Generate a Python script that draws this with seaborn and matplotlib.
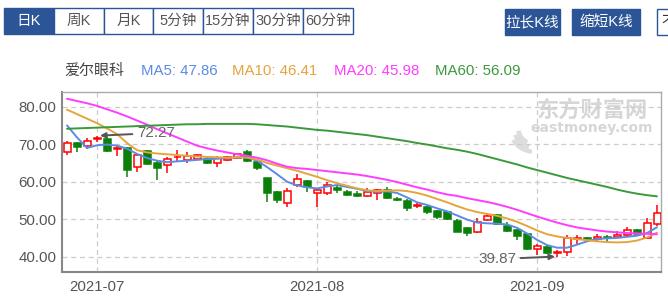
import numpy as np
import pandas as pd
import matplotlib
matplotlib.use("Agg")
import matplotlib.pyplot as plt
import seaborn as sns
from matplotlib.patches import Rectangle, Wedge

# ---------------- data ----------------
dates = pd.bdate_range("2021-06-28", "2021-09-17")  # 60 trading days
opens = [68.0, 70.3, 69.4, 71.3, 71.4, 68.6, 68.9, 64.0, 68.2, 64.9,
         64.5, 66.5, 65.8, 66.1, 66.0, 65.1, 65.8, 66.4, 67.8, 65.2,
         60.9, 57.2, 54.2, 59.1, 60.2, 56.9, 56.9, 58.2, 57.3, 56.6,
         56.3, 57.1, 57.8, 55.3, 54.9, 53.4, 53.3, 52.2, 51.8, 49.6,
         47.6, 46.7, 49.8, 51.1, 48.3, 47.1, 46.1, 42.1, 42.7, 41.0,
         41.3, 44.8, 44.9, 44.7, 45.3, 45.2, 45.8, 47.1, 44.9, 48.7]
highs = [70.8, 70.6, 71.6, 72.27, 71.9, 69.8, 69.2, 67.5, 68.4, 65.5,
         66.6, 68.5, 68.0, 67.5, 66.5, 66.8, 66.9, 67.5, 68.5, 65.4,
         61.0, 57.5, 58.2, 62.0, 60.5, 58.3, 59.8, 59.0, 57.8, 57.5,
         58.3, 58.0, 58.5, 55.9, 55.3, 54.5, 53.5, 52.4, 52.0, 50.0,
         47.8, 50.2, 51.6, 51.3, 49.3, 47.3, 46.3, 43.3, 43.0, 41.8,
         45.8, 45.8, 45.2, 46.0, 45.9, 46.9, 47.8, 47.3, 50.2, 53.8]
lows = [67.1, 68.0, 68.7, 70.5, 68.0, 66.9, 61.2, 62.6, 64.4, 60.5,
        62.2, 65.4, 65.0, 65.8, 64.6, 64.0, 65.6, 66.2, 65.3, 63.0,
        54.7, 54.2, 53.3, 58.6, 57.3, 53.3, 56.5, 56.9, 56.2, 55.9,
        56.0, 55.1, 55.4, 54.9, 52.2, 53.0, 51.5, 50.0, 49.8, 46.5,
        45.6, 46.2, 49.6, 48.4, 46.7, 44.5, 41.8, 40.5, 40.7, 39.87,
        40.3, 43.2, 44.3, 44.2, 43.9, 44.9, 45.5, 46.0, 44.7, 48.3]
closes = [70.2, 69.2, 70.9, 71.6, 68.1, 68.9, 63.2, 67.1, 64.6, 63.7,
          66.1, 66.7, 66.8, 67.1, 64.9, 66.4, 66.5, 67.3, 65.5, 63.6,
          56.9, 55.1, 57.5, 60.7, 58.7, 57.8, 59.1, 57.9, 56.5, 56.1,
          57.3, 57.8, 55.6, 55.0, 53.1, 53.7, 51.8, 50.7, 50.1, 46.7,
          46.4, 49.3, 50.9, 48.6, 46.9, 45.6, 42.0, 42.9, 40.9, 41.3,
          45.1, 45.1, 44.7, 45.3, 44.9, 45.7, 47.1, 46.1, 48.9, 51.7]

ma5 = [75.0, 71.8, 69.0, 69.7, 69.9, 69.6, 68.8, 67.4, 66.3, 65.6,
       65.2, 65.4, 65.6, 65.8, 66.0, 66.1, 66.3, 66.5, 66.5, 65.6,
       63.9, 62.0, 60.0, 59.0, 58.5, 58.2, 58.7, 59.1, 58.6, 58.1,
       57.5, 57.3, 57.4, 57.0, 55.8, 54.5, 53.8, 52.9, 52.1, 51.0,
       49.9, 49.1, 48.9, 48.8, 48.6, 47.7, 46.2, 44.5, 43.1, 42.4,
       42.4, 43.2, 44.1, 44.7, 44.9, 45.0, 45.3, 45.6, 46.3, 47.86]
ma10 = [79.2, 78.0, 76.8, 75.6, 74.2, 72.7, 70.3, 68.4, 67.8, 67.5,
        67.3, 67.1, 66.9, 66.7, 66.6, 66.5, 66.4, 66.5, 66.4, 65.9,
        65.0, 64.3, 63.6, 62.9, 62.1, 61.3, 60.4, 59.6, 58.9, 58.2,
        57.7, 57.5, 57.6, 57.7, 57.5, 57.0, 56.3, 55.4, 54.5, 53.5,
        52.6, 51.9, 51.4, 50.9, 50.2, 49.3, 48.2, 47.0, 46.0, 45.4,
        45.0, 44.7, 44.4, 44.1, 43.9, 43.8, 43.9, 44.3, 45.1, 46.41]
ma20 = [82.1, 81.5, 80.9, 80.2, 79.3, 78.4, 77.4, 76.3, 75.2, 74.0,
        72.9, 71.8, 70.7, 69.6, 68.9, 68.3, 67.8, 67.3, 66.9, 66.4,
        65.7, 64.8, 64.0, 63.6, 63.4, 63.1, 62.8, 62.5, 62.2, 61.9,
        61.5, 61.0, 60.5, 59.9, 59.2, 58.5, 57.9, 57.2, 56.6, 56.2,
        55.6, 55.1, 54.6, 54.0, 53.3, 52.5, 51.6, 50.7, 49.9, 49.1,
        48.4, 47.8, 47.4, 47.0, 46.7, 46.5, 46.3, 46.2, 46.1, 45.98]
ma60 = [74.1, 74.2, 74.3, 74.4, 74.5, 74.6, 74.7, 74.8, 74.9, 75.0,
        75.1, 75.2, 75.3, 75.3, 75.4, 75.4, 75.4, 75.4, 75.4, 75.3,
        75.1, 74.9, 74.7, 74.4, 74.1, 73.8, 73.6, 73.3, 73.0, 72.7,
        72.4, 72.0, 71.6, 71.2, 70.8, 70.3, 69.9, 69.4, 68.9, 68.5,
        68.0, 67.4, 66.7, 66.0, 65.3, 64.6, 63.8, 63.1, 62.4, 61.7,
        61.0, 60.4, 59.8, 59.2, 58.6, 57.9, 57.3, 56.8, 56.4, 56.09]

stock_name = "爱尔眼科"
ma_names = ["MA5", "MA10", "MA20", "MA60"]
ma_colors = ["#5b8be6", "#e5a53c", "#ff3cff", "#3a9a3a"]
y_ticks = [40, 50, 60, 70, 80]
tabs = ["日K", "周K", "月K", "5分钟", "15分钟", "30分钟", "60分钟"]
buttons = ["拉长K线", "缩短K线"]
high_label, low_label = "72.27", "39.87"

# ---------------- style ----------------
sns.set_theme(style="white")
plt.rcParams["font.family"] = ["Liberation Sans", "Noto Sans CJK SC", "DejaVu Sans"]

W, H = 668, 296
fig = plt.figure(figsize=(W / 100, H / 100), dpi=100)
fig.patch.set_facecolor("white")

bg = fig.add_axes([0, 0, 1, 1])
bg.set_xlim(0, W)
bg.set_ylim(H, 0)
bg.axis("off")
bg.set_zorder(0)

BLUE = "#2c5597"
tx0, tw, ty, th = 4, 49.8, 8, 26
for k, t in enumerate(tabs):
    sel = k == 0
    bg.add_patch(Rectangle((tx0 + k * tw, ty), tw, th, facecolor=BLUE if sel else "white",
                           edgecolor=BLUE, lw=1))
    bg.text(tx0 + k * tw + tw / 2, ty + th / 2, t, ha="center", va="center", fontsize=10.5,
            color="white" if sel else "#555555")
for k, (bx, bw) in enumerate([(505, 55), (572, 68)]):
    bg.add_patch(Rectangle((bx, 9), bw, 26, facecolor=BLUE, edgecolor=BLUE, lw=1))
    bg.text(bx + bw / 2, 22, buttons[k], ha="center", va="center", fontsize=10.5, color="white")
bg.add_patch(Rectangle((657, 9), 60, 26, facecolor="white", edgecolor=BLUE, lw=1))
bg.text(661, 22, "不", ha="left", va="center", fontsize=10.5, color="#333333")

lx = [64, 140.6, 232, 334, 434.6]
bg.text(lx[0], 71, stock_name, ha="left", va="center", fontsize=10.8, color="#444444")
last_vals = [ma5[-1], ma10[-1], ma20[-1], ma60[-1]]
for k in range(4):
    bg.text(lx[k + 1], 71, f"{ma_names[k]}: {last_vals[k]:.2f}", ha="left", va="center",
            fontsize=10.8, color=ma_colors[k])

# watermark
for (r, t1, t2) in [(26, 185, 240), (22, 195, 250), (18, 205, 260)]:
    bg.add_patch(Wedge((534, 128), r, t1 - 90, t2 - 90, width=4.5, facecolor="#dddddd",
                       edgecolor="none"))
bg.text(592, 110, "东方财富网", ha="center", va="center", fontsize=16, fontweight="bold",
        color="#d6d6d6", family=["Noto Sans CJK SC"])
bg.text(592, 128, "eastmoney.com", ha="center", va="center", fontsize=10, fontweight="bold",
        color="#d6d6d6", family=["DejaVu Sans"])

L, R, T, B = 62.3, 660.7, 92.0, 271.7
ax = fig.add_axes([L / W, (H - B) / H, (R - L) / W, (B - T) / H])
ax.set_zorder(1)
ax.patch.set_alpha(0)

idx = np.arange(len(dates))
o = np.array(opens); c = np.array(closes); h = np.array(highs); lo = np.array(lows)
up = c >= o
UPC, DNC = "#ff0000", "#0a800a"
cols = np.where(up, UPC, DNC)
ax.vlines(idx, lo, h, colors=cols, lw=1.1, zorder=2)
body_h = np.maximum(np.abs(c - o), 0.12)
ax.bar(idx, body_h, bottom=np.minimum(o, c), width=0.7,
       facecolor=np.where(up, "white", DNC), edgecolor=cols, linewidth=1.1, zorder=3)

df = pd.DataFrame({"i": idx, "MA5": ma5, "MA10": ma10, "MA20": ma20, "MA60": ma60})
for name, col in zip(ma_names, ma_colors):
    sns.lineplot(data=df, x="i", y=name, ax=ax, color=col, lw=1.4, zorder=4)

ax.set_xlim(-0.47, 59.37)
ax.set_ylim(36.0, 83.9)
ax.set_xlabel("")
ax.set_ylabel("")

month_first = [int(np.argmax(dates.month == m)) for m in (7, 8, 9)]
ax.set_xticks(month_first)
ax.set_xticklabels([dates[i].strftime("%Y-%m") for i in month_first])
ax.set_yticks(y_ticks)
ax.set_yticklabels([f"{v:.2f}" for v in y_ticks])
ax.tick_params(axis="both", length=0, labelsize=10.8, colors="#555555")
ax.tick_params(axis="y", pad=4)
ax.tick_params(axis="x", pad=6)

for v in y_ticks:
    ax.axhline(v, color="#cccccc", lw=0.9, ls=(0, (4, 3)), zorder=1)
for i in month_first:
    ax.axvline(i, color="#cccccc", lw=0.9, ls=(0, (4, 3)), zorder=1)

for s in ["left", "bottom"]:
    ax.spines[s].set_color("#888888"); ax.spines[s].set_linewidth(1.5)
for s in ["top", "right"]:
    ax.spines[s].set_color("#aaaaaa"); ax.spines[s].set_linewidth(1.0)

imax = int(np.argmax(h)); imin = int(np.argmin(lo))
ax.annotate(high_label, xy=(imax + 0.3, h[imax]), xytext=(imax + 4.0, h[imax] + 0.7),
            ha="left", va="center", fontsize=11, color="#666666",
            arrowprops=dict(arrowstyle="-|>", color="#555555", lw=1.4, mutation_scale=8,
                            shrinkA=1, shrinkB=0), zorder=5)
ax.annotate(low_label, xy=(imin - 0.2, lo[imin] + 0.15), xytext=(imin - 4.1, lo[imin] - 0.5),
            ha="right", va="center", fontsize=11, color="#666666",
            arrowprops=dict(arrowstyle="-|>", color="#555555", lw=1.4, mutation_scale=8,
                            shrinkA=1, shrinkB=0), zorder=5)

fig.savefig("out.png", dpi=100)
